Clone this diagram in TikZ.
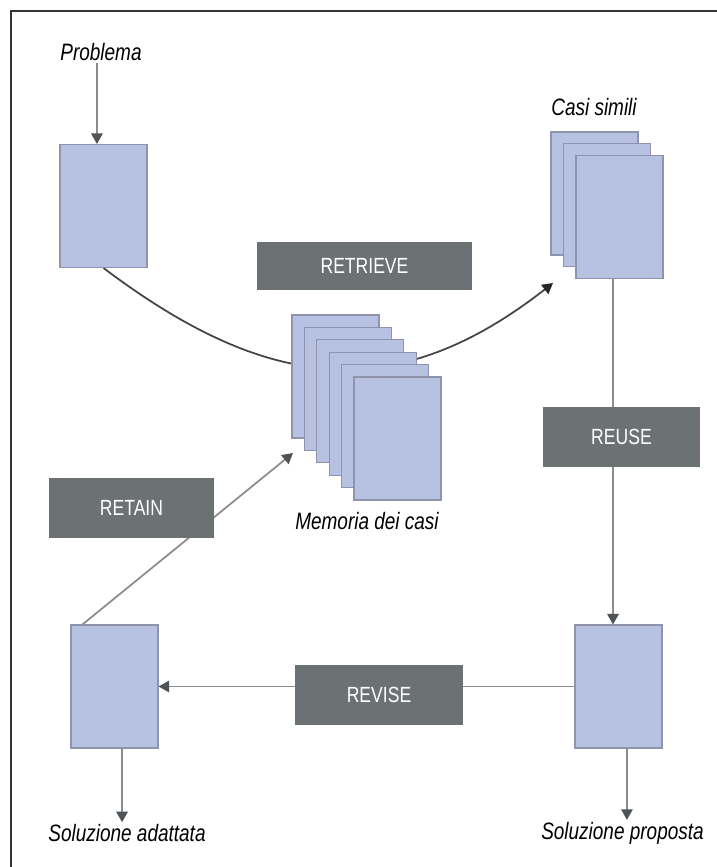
\documentclass[tikz,border=0pt]{standalone}
\usepackage{fontspec}
\setmainfont{Liberation Sans}[FakeStretch=0.8]
\usepackage{xcolor}
\definecolor{cCase}{HTML}{B7C1E2}
\definecolor{cCaseLine}{HTML}{8E94AE}
\definecolor{cPhase}{HTML}{6C7174}
\definecolor{cLine}{HTML}{8C8C8C}
\definecolor{cTip}{HTML}{4E5358}
\definecolor{cCurve}{HTML}{444444}
\usepackage{tikz}
\usetikzlibrary{positioning,arrows.meta,calc,backgrounds}
\tikzset{
  node-case/.style={draw=cCaseLine,line width=0.6pt,fill=cCase,
    minimum width=1.74cm,minimum height=2.46cm,inner sep=0pt},
  node-phase/.style={fill=cPhase,text=white,minimum width=3.3cm,
    minimum height=1.2cm,inner sep=0pt,font=\fontsize{12.5}{14}\selectfont},
  node-label/.style={inner sep=1pt,font=\itshape\fontsize{13.5}{15}\selectfont},
  frame/.style={line width=0.8pt,draw=black!80},
  arrow/.style={-{Triangle[length=6pt,width=6.5pt,color=cTip]},line width=1pt,draw=cLine},
  arrow-curve/.style={-{Triangle[length=6pt,width=6.5pt,color=black!85]},line width=1pt,draw=cCurve},
}
\begin{document}
\begin{tikzpicture}[x=0.02cm,y=-0.02cm]
  \useasboundingbox (0,0) rectangle (717,867);
  \draw[frame] (11,867) -- (11,11) -- (717,11);

  % casi (pile di schede)
  \node[node-case] (prob) at (103.5,206) {};
  \node[node-label] (problbl) at (101,52) {Problema};
  \foreach \i in {0,1,2}
    \node[node-case] (casi\i) at (594.5+12.5*\i,193.5+11.8*\i) {};
  \node[node-label] (casilbl) at (594,107) {Casi simili};
  \foreach \i in {0,...,5}
    \node[node-case] (mem\i) at (335.5+12.4*\i,376.5+12.4*\i) {};
  \node[node-label] (memlbl) at (367,521) {Memoria dei casi};
  \node[node-case] (adat) at (114.5,686.5) {};
  \node[node-case] (prop) at (618.5,686.5) {};
  \node[node-label] (adatlbl) at (127,833) {Soluzione adattata};
  \node[node-label] (proplbl) at (622.5,833) {Soluzione proposta};

  % fasi
  \node[node-phase,minimum width=4.3cm,minimum height=0.96cm] (retrieve) at (364.5,266) {RETRIEVE};
  \node[node-phase,minimum width=3.14cm] (reuse) at (621.5,437) {REUSE};
  \node[node-phase,minimum width=3.36cm] (revise) at (379,695) {REVISE};
  \node[node-phase] (retain) at (131.5,508) {RETAIN};

  \coordinate (casiin) at (553,283);
  \coordinate (memin) at (293,453);

  \begin{scope}[on background layer]
    \draw[arrow] ([xshift=-2.3pt]problbl.south) -- ([xshift=-2.3pt]problbl.south |- prob.north);
    \draw[arrow-curve] (prob.south) to[out=-37,in=218,looseness=1.15] (casiin);
    \draw[arrow] ([xshift=-3.7pt]casi2.south) -- ([xshift=-3.7pt]casi2.south |- prop.north);
    \draw[arrow] (prop.west) -- (adat.east);
    \draw[arrow] ([xshift=6.8pt]adat.north west) -- (memin);
    \draw[arrow] ([xshift=4.3pt]adat.south) -- ([xshift=4.3pt]adat.south |- adatlbl.north);
    \draw[arrow] ([xshift=4.8pt]prop.south) -- ([xshift=4.8pt]prop.south |- proplbl.north);
  \end{scope}
\end{tikzpicture}
\end{document}
